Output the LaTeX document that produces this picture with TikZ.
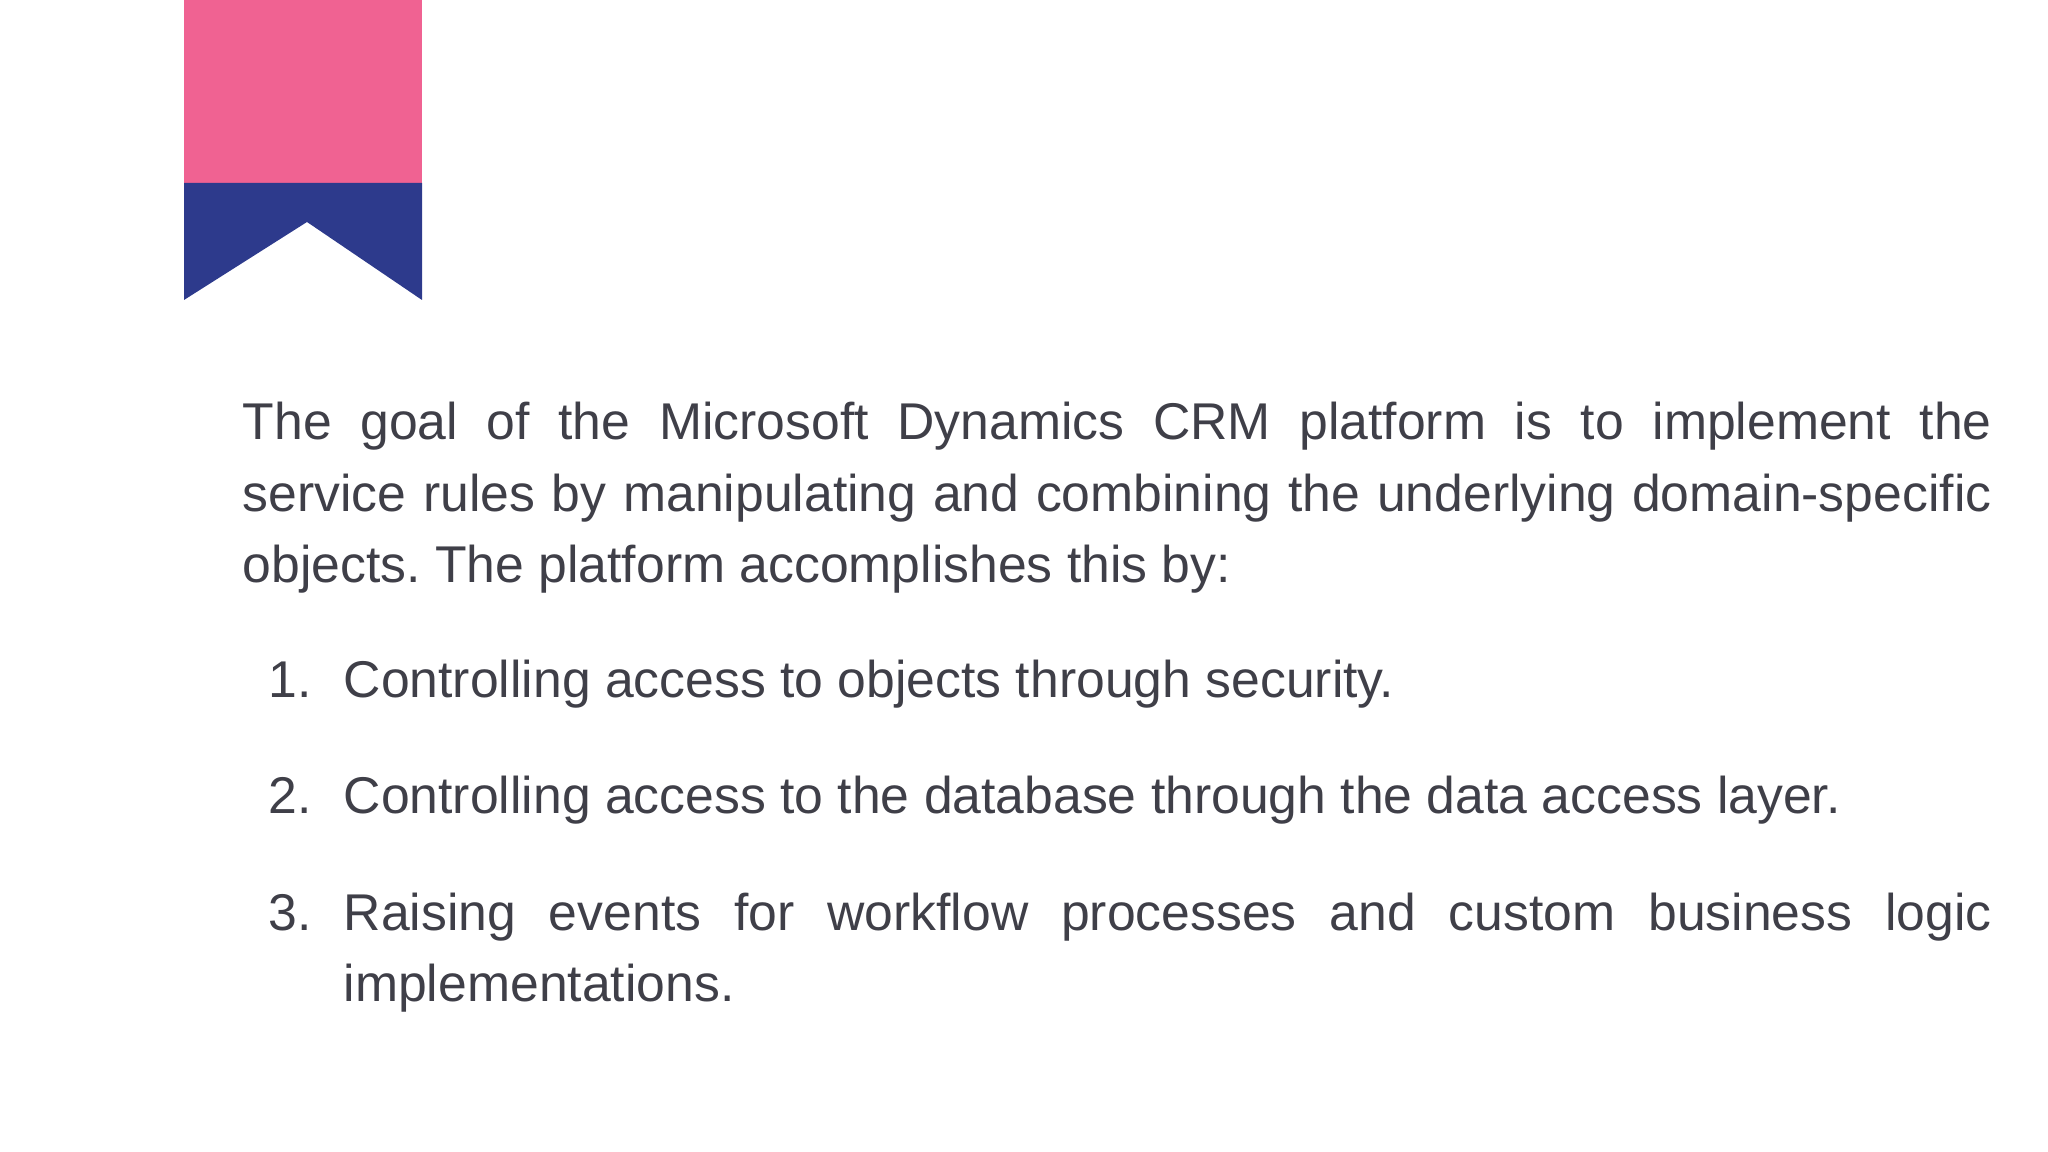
\documentclass[tikz,border=0pt]{standalone}
\usepackage{fontspec}
\setmainfont{Liberation Sans}
\definecolor{pinkc}{HTML}{F06292}
\definecolor{navyc}{HTML}{2D3A8C}
\definecolor{txt}{HTML}{3F3F48}
\newcommand{\myparfmt}{\fontsize{14.7}{20.3}\selectfont\frenchspacing\hyphenpenalty 10000\relax\exhyphenpenalty 10000\relax}
\tikzset{para/.style={anchor=base west,inner sep=0pt,text=txt,font=\myparfmt,align=justify}}
\begin{document}
\begin{tikzpicture}[x=0.01cm,y=-0.01cm]
\useasboundingbox (0,0) rectangle (2048,1152);
\fill[pinkc] (184,0) rectangle (422,184);
\fill[navyc] (184,183) -- (422,183) -- (422,300) -- (307,222) -- (184,300) -- cycle;
\node[para,text width=17.48cm] (p) at (242,440) {The goal of the Microsoft Dynamics CRM platform is to implement the\linebreak service rules by manipulating and combining the underlying domain-specific objects. The platform accomplishes this by:};
\node[para] (n1) at (268,697) {1.};
\node[para,text width=16.47cm] (i1) at (343,697) {Controlling access to objects through security.};
\node[para] (n2) at (268,813) {2.};
\node[para,text width=16.47cm] (i2) at (343,813) {Controlling access to the database through the data access layer.};
\node[para] (n3) at (268,930) {3.};
\node[para,text width=16.47cm] (i3) at (343,930) {Raising events for workflow processes and custom business logic\linebreak implementations.};
\end{tikzpicture}
\end{document}
